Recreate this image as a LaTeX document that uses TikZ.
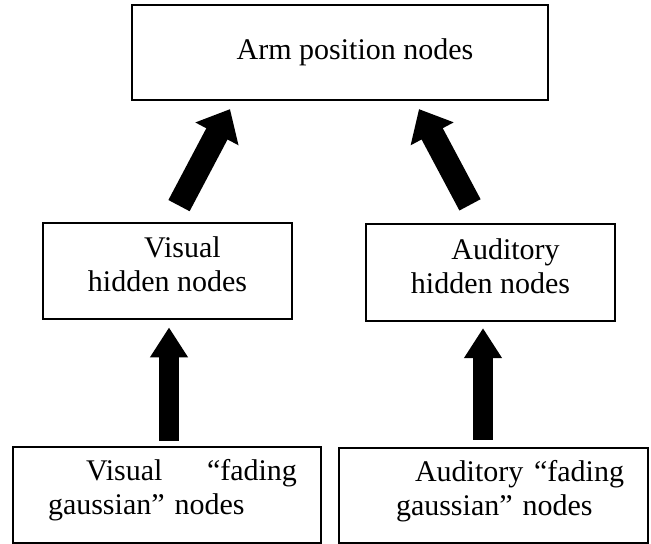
\documentclass[tikz,border=0pt]{standalone}
\usepackage{fontspec}
\setmainfont{Liberation Serif}
\usetikzlibrary{arrows.meta}
\tikzset{
  box/.style={draw, line width=0.9pt, inner sep=0pt, font=\fontsize{12pt}{13.6pt}\selectfont},
  slantarrow/.style={line width=9.6pt, -{Triangle[length=11.2pt,width=18.8pt]}},
  straightarrow/.style={line width=8pt, -{Triangle[length=12pt,width=14.4pt]}}
}
\begin{document}
\begin{tikzpicture}[x=0.4pt,y=-0.4pt]
\useasboundingbox (0,0) rectangle (651,544);
\node[box, minimum width=166.4pt, minimum height=38pt] (arm) at (340,52.5) {\hspace*{12pt}Arm position nodes};% top
\node[box, align=center, minimum width=99.6pt, minimum height=38.6pt] (vishid) at (167.5,271) {\hspace*{12pt}Visual\\hidden nodes\rule[-5.2pt]{0pt}{5.2pt}};
\node[box, align=center, minimum width=99.6pt, minimum height=38.8pt] (audhid) at (490.5,272.5) {\hspace*{12pt}Auditory\\hidden nodes\rule[-5.2pt]{0pt}{5.2pt}};
\node[box, align=left, text width=104pt, minimum width=123.4pt, minimum height=38.4pt] (visfad) at (167,495) {\hspace*{19.6pt}Visual\hfill“fading\\\hspace*{4.4pt}gaussian” nodes\rule[-6.2pt]{0pt}{6.2pt}};
\node[box, align=left, text width=104.4pt, minimum width=123.6pt, minimum height=38pt] (audfad) at (493.5,495.5) {\hspace*{20.8pt}Auditory\hfill“fading\\\hspace*{13.2pt}gaussian” nodes\rule[-6.2pt]{0pt}{6.2pt}};

\draw[slantarrow] ([shift={(11.5,-16)}]vishid.north) -- ([shift={(-110,8)}]arm.south);% hidden to arm
\draw[slantarrow] ([shift={(-20.5,-18)}]audhid.north) -- ([shift={(79,8)}]arm.south);
\draw[straightarrow] ([shift={(2,-5)}]visfad.north) -- ([shift={(1.5,7)}]vishid.south);% fading to hidden
\draw[straightarrow] ([shift={(-10.5,-7)}]audfad.north) -- ([shift={(-7.5,6)}]audhid.south);
\end{tikzpicture}
\end{document}
